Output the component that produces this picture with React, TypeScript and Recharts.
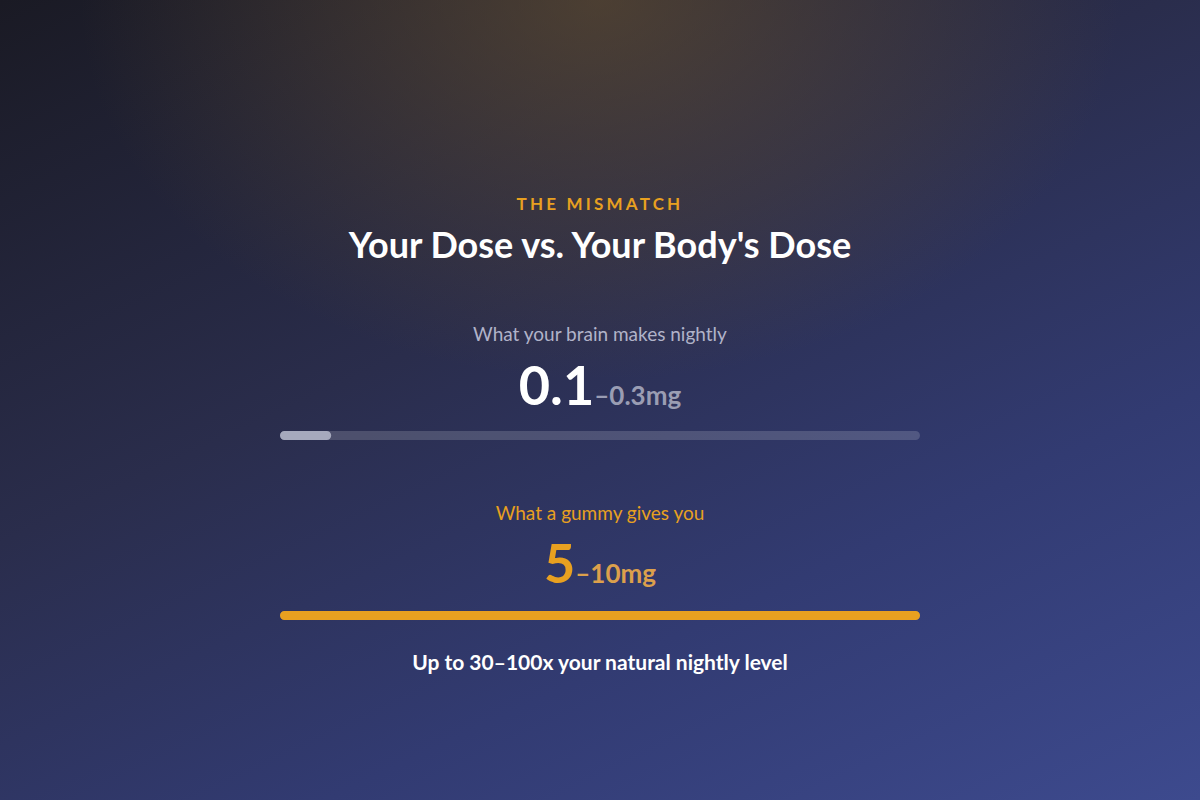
import { BarChart, Bar, XAxis, YAxis } from 'recharts'

const kicker = 'THE MISMATCH'
const title = "Your Dose vs. Your Body's Dose"
const doseLabels = ['What your brain makes nightly', 'What a gummy gives you']
const doseLow = ['0.1', '5']
const doseHigh = ['–0.3mg', '–10mg']
const barFill = [8, 100]
const footnote = 'Up to 30–100x your natural nightly level'

const font = 'Lato, "Noto Sans", sans-serif'
const orange = '#e8a020'

const rows = [
  { top: 324, numTop: 358, barTop: 430, labelColor: '#b1b3c9', lowColor: '#ffffff', highColor: '#9a9db3', barColor: '#a6a9bd', track: 'rgba(255,255,255,0.16)' },
  { top: 503, numTop: 536, barTop: 610, labelColor: orange, lowColor: orange, highColor: '#dca04c', barColor: orange, track: 'rgba(255,255,255,0.16)' },
]

function DoseBar({ value, color, track }: { value: number; color: string; track: string }) {
  const data = [{ name: 'dose', value }]
  return (
    <BarChart width={640} height={10} data={data} layout="vertical" margin={{ top: 0, right: 0, bottom: 0, left: 0 }} barCategoryGap={0}>
      <XAxis type="number" domain={[0, 100]} hide />
      <YAxis type="category" dataKey="name" hide />
      <Bar
        dataKey="value"
        fill={color}
        barSize={10}
        radius={5}
        background={{ fill: track, radius: 5 } as any}
        isAnimationActive={false}
      />
    </BarChart>
  )
}

const centered = {
  position: 'absolute' as const,
  left: 0,
  width: 1200,
  textAlign: 'center' as const,
  lineHeight: 1,
  whiteSpace: 'nowrap' as const,
}

export default function App() {
  return (
    <div
      style={{
        position: 'fixed',
        top: 0,
        left: 0,
        width: 1200,
        height: 800,
        overflow: 'hidden',
        fontFamily: font,
        background:
          'radial-gradient(ellipse 520px 380px at 600px 0px, rgba(110,85,45,0.55), rgba(110,85,45,0) 100%), linear-gradient(155deg, #1a1a24 0%, #2a2d4c 40%, #323b72 70%, #3d4a8e 100%)',
      }}
    >
      <div style={{ ...centered, top: 195, fontSize: 17, fontWeight: 700, letterSpacing: 3.2, color: orange }}>{kicker}</div>
      <div style={{ ...centered, top: 226, fontSize: 36, fontWeight: 700, color: '#ffffff' }}>{title}</div>

      {rows.map((r, i) => (
        <div key={i}>
          <div style={{ ...centered, top: r.top, fontSize: 19, color: r.labelColor }}>{doseLabels[i]}</div>
          <div style={{ ...centered, top: r.numTop, fontWeight: 700 }}>
            <span style={{ fontSize: 54, color: r.lowColor }}>{doseLow[i]}</span>
            <span style={{ fontSize: 26, color: r.highColor }}>{doseHigh[i]}</span>
          </div>
          <div style={{ position: 'absolute', left: 280, top: r.barTop }}>
            <DoseBar value={barFill[i]} color={r.barColor} track={r.track} />
          </div>
        </div>
      ))}

      <div style={{ ...centered, top: 651, fontSize: 21, fontWeight: 700, color: '#ffffff' }}>{footnote}</div>
    </div>
  )
}
